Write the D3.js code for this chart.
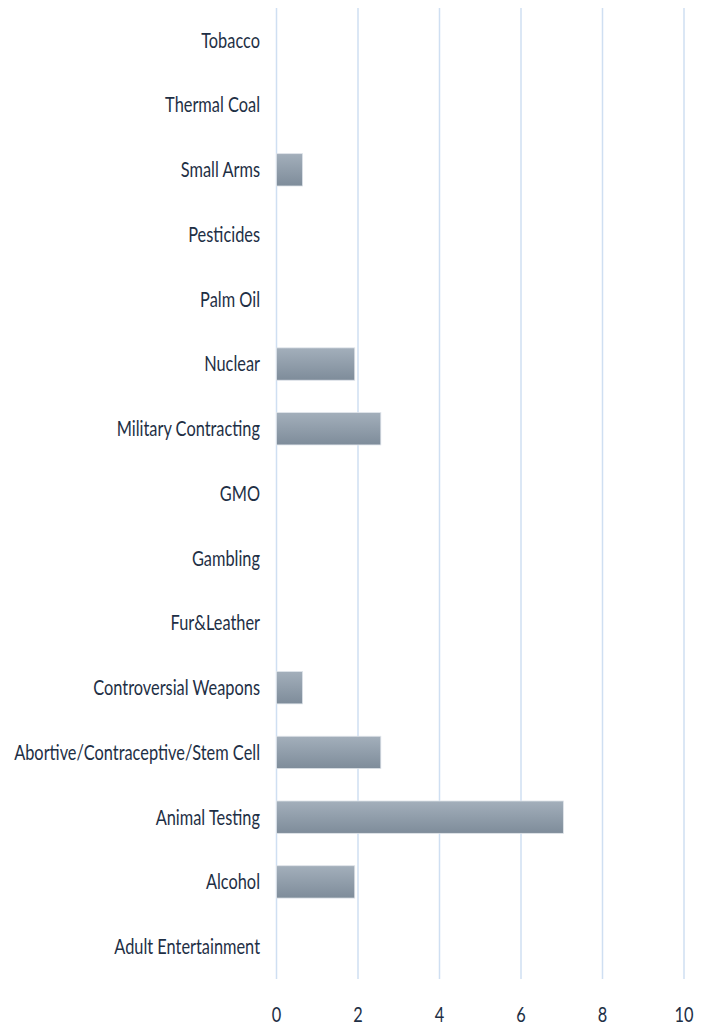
<!DOCTYPE html>
<html><head><meta charset="utf-8">
<script src="https://cdn.jsdelivr.net/npm/d3@7"></script>
<style>body{margin:0;background:#fff}svg{display:block}</style>
</head><body>
<script>
const categories = ["Tobacco","Thermal Coal","Small Arms","Pesticides","Palm Oil","Nuclear","Military Contracting","GMO","Gambling","Fur&Leather","Controversial Weapons","Abortive/Contraceptive/Stem Cell","Animal Testing","Alcohol","Adult Entertainment"];
const values = [0,0,0.64,0,0,1.92,2.56,0,0,0,0.64,2.56,7.04,1.92,0];
const xTicks = [0,2,4,6,8,10];

const W=709,H=1030;
const m={left:276.5,right:25,top:8,bottom:51};
const svg=d3.select("body").append("svg").attr("width",W).attr("height",H);
const defs=svg.append("defs");
const g=defs.append("linearGradient").attr("id","bg").attr("x1",0).attr("y1",0).attr("x2",0).attr("y2",1);
g.append("stop").attr("offset","0%").attr("stop-color","#a3afbb");
g.append("stop").attr("offset","100%").attr("stop-color","#7e8c9a");

const x=d3.scaleLinear().domain([0,10]).range([m.left,684]);
const y=d3.scaleBand().domain(categories).range([m.top,H-m.bottom]).paddingInner(0.5).paddingOuter(0.25);
const font="Lato,'Open Sans',sans-serif";
const fs=21;

svg.append("g").selectAll("line").data(xTicks).join("line")
  .attr("x1",d=>x(d)).attr("x2",d=>x(d)).attr("y1",m.top).attr("y2",H-m.bottom)
  .attr("stroke","#cfdff2").attr("stroke-width",1.5);

svg.append("g").selectAll("rect").data(categories.map((c,i)=>({c,v:values[i]})).filter(d=>d.v>0)).join("rect")
  .attr("x",x(0)).attr("y",d=>y(d.c)).attr("width",d=>x(d.v)-x(0)).attr("height",y.bandwidth())
  .attr("fill","url(#bg)").attr("stroke","#dfe4ea").attr("stroke-width",0.8);

const labels=svg.append("g").selectAll("text").data(categories).join("text")
  .attr("x",0).attr("y",0).attr("dy","0.35em")
  .attr("text-anchor","end").attr("font-family",font).attr("font-size",fs)
  .attr("fill","#1e2f45").text(d=>d);
// condense horizontally to match the narrow reference face
const longest=d3.max(labels.nodes(),n=>n.getComputedTextLength());
const sx=246/longest;
labels.attr("transform",d=>`translate(260,${y(d)+y.bandwidth()/2}) scale(${sx},1)`);

svg.append("g").selectAll("text").data(xTicks).join("text")
  .attr("x",0).attr("y",0).attr("dy","0.35em")
  .attr("transform",d=>`translate(${x(d)},1015) scale(${sx},1)`)
  .attr("text-anchor","middle").attr("font-family",font).attr("font-size",fs)
  .attr("fill","#1e2f45").text(d=>d);
</script>
</body></html>
